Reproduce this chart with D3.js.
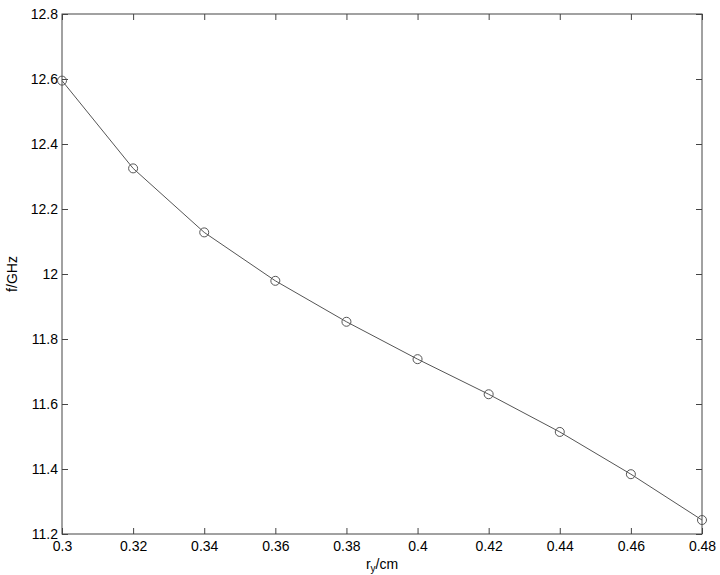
<!DOCTYPE html>
<html><head><meta charset="utf-8">
<script src="https://cdn.jsdelivr.net/npm/d3@7"></script>
<style>body{margin:0;background:#fff}svg{display:block}text{font-family:"Liberation Sans",Arial,sans-serif}</style>
</head><body>
<script>
const xValues = [0.30, 0.32, 0.34, 0.36, 0.38, 0.40, 0.42, 0.44, 0.46, 0.48];
const fValues = [12.595, 12.325, 12.128, 11.979, 11.853, 11.738, 11.630, 11.514, 11.384, 11.243];
const xTicks = [0.3, 0.32, 0.34, 0.36, 0.38, 0.4, 0.42, 0.44, 0.46, 0.48];
const yTicks = [11.2, 11.4, 11.6, 11.8, 12, 12.2, 12.4, 12.6, 12.8];

const W = 720, H = 575;
const m = {left: 62, right: 18, top: 14, bottom: 41};
const svg = d3.select("body").append("svg").attr("width", W).attr("height", H);
const x = d3.scaleLinear().domain([0.3, 0.48]).range([m.left, W - m.right]);
const y = d3.scaleLinear().domain([11.2, 12.8]).range([H - m.bottom, m.top]);
const fmt = d => String(+d.toFixed(2));
const axisCol = "#444";

function style(g){
  g.select(".domain").remove();
  g.selectAll("line").attr("stroke", axisCol);
  g.selectAll("text").attr("fill", "#000").attr("font-size", 14);
}
svg.append("g").attr("transform", `translate(0,${H - m.bottom})`)
  .call(d3.axisBottom(x).tickValues(xTicks).tickFormat(fmt).tickSizeInner(-6).tickSizeOuter(0).tickPadding(7))
  .call(style);
svg.append("g").attr("transform", `translate(0,${m.top})`)
  .call(d3.axisTop(x).tickValues(xTicks).tickFormat("").tickSizeInner(-6).tickSizeOuter(0))
  .call(style);
svg.append("g").attr("transform", `translate(${m.left},0)`)
  .call(d3.axisLeft(y).tickValues(yTicks).tickFormat(fmt).tickSizeInner(-6).tickSizeOuter(0).tickPadding(4))
  .call(style);
svg.append("g").attr("transform", `translate(${W - m.right},0)`)
  .call(d3.axisRight(y).tickValues(yTicks).tickFormat("").tickSizeInner(-6).tickSizeOuter(0))
  .call(style);
svg.append("rect").attr("x", m.left).attr("y", m.top)
  .attr("width", W - m.left - m.right).attr("height", H - m.top - m.bottom)
  .attr("fill", "none").attr("stroke", axisCol).attr("stroke-width", 1);

const data = xValues.map((v, i) => ({x: v, y: fValues[i]}));
svg.append("path").datum(data)
  .attr("fill", "none").attr("stroke", "#555").attr("stroke-width", 1)
  .attr("d", d3.line().x(d => x(d.x)).y(d => y(d.y)));
svg.selectAll("circle.pt").data(data).join("circle")
  .attr("cx", d => x(d.x)).attr("cy", d => y(d.y)).attr("r", 4.5)
  .attr("fill", "none").attr("stroke", "#555").attr("stroke-width", 1);

const xl = svg.append("text").attr("x", (m.left + W - m.right) / 2).attr("y", 569)
  .attr("text-anchor", "middle").attr("font-size", 14).attr("fill", "#000");
xl.append("tspan").text("r");
xl.append("tspan").attr("font-size", 10).attr("dy", 3).text("y");
xl.append("tspan").attr("dy", -3).text("/cm");
svg.append("text").attr("transform", `translate(17,${(m.top + H - m.bottom) / 2}) rotate(-90)`)
  .attr("text-anchor", "middle").attr("font-size", 14).attr("fill", "#000").text("f/GHz");
</script>
</body></html>
